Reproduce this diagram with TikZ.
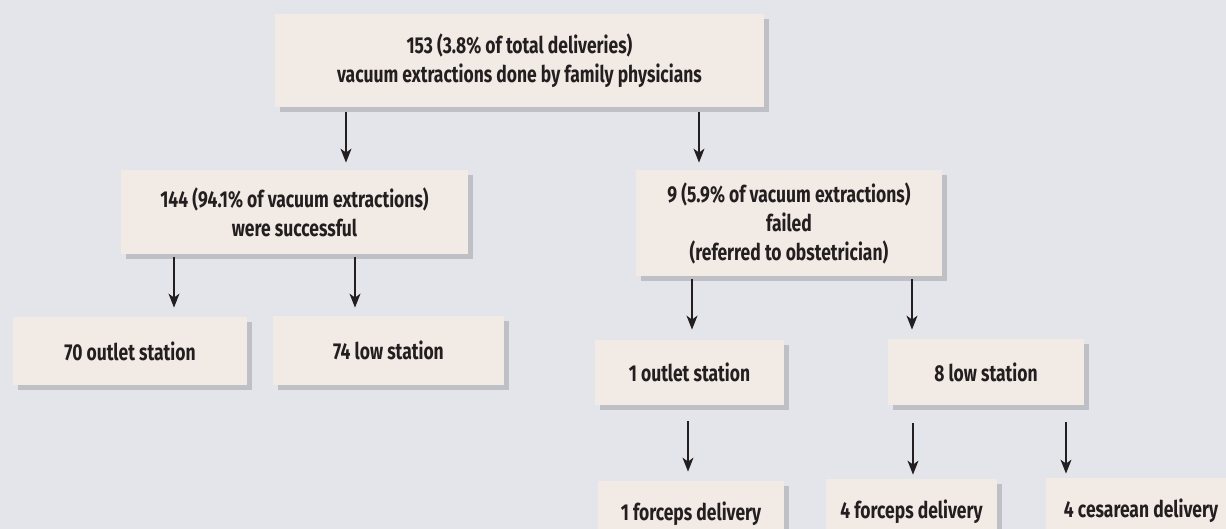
\documentclass[tikz,border=0pt]{standalone}
\usepackage{fontspec}
\setmainfont{Fira Sans}[FakeStretch=0.76]
\usetikzlibrary{arrows.meta, shadows}
\definecolor{pagebg}{RGB}{228,229,235}
\definecolor{boxfill}{RGB}{242,234,228}
\definecolor{inkdark}{RGB}{35,31,32}
\tikzset{flow box/.style={rectangle, fill=boxfill, inner sep=0pt, align=center, text=inkdark,
    font=\bfseries\fontsize{11.5}{14.5}\selectfont,
    drop shadow={shadow xshift=2.5pt, shadow yshift=-2.5pt, fill=black, opacity=0.16}},
  arrow/.style={-{Stealth[length=7pt, width=5.5pt, inset=2pt]}, draw=inkdark, line width=0.6pt}
}

\begin{document}
\begin{tikzpicture}[x=0.5pt, y=-0.5pt]
          \useasboundingbox (0,0) rectangle (1226,529);
          \clip (0,0) rectangle (1226,529);
          \fill[pagebg] (0,0) rectangle (1226,529);
          % Root
          \node[flow box, minimum width=244.5pt, minimum height=46.5pt] (total) at (519.5,60.5) {153 (3.8\% of total deliveries)\\vacuum extractions done by family physicians};
          % Outcome
          \node[flow box, minimum width=173.5pt, minimum height=42pt] (success) at (294.5,212) {144 (94.1\% of vacuum extractions)\\were successful};
          \node[flow box, minimum width=153pt, minimum height=53pt] (failed) at (789,223) {9 (5.9\% of vacuum extractions)\\failed\\(referred to obstetrician)};
          % Station
          \node[flow box, minimum width=117pt, minimum height=34pt] (outlet70) at (130,351) {70 outlet station};
          \node[flow box, minimum width=115.5pt, minimum height=34.5pt] (low74) at (388.5,350.5) {74 low station};
          \node[flow box, minimum width=94.5pt, minimum height=32.5pt] (outlet1) at (689.5,372.5) {1 outlet station};
          \node[flow box, minimum width=98pt, minimum height=33pt] (low8) at (986,372) {8 low station};
          % Delivery
          \node[flow box, minimum width=93pt, minimum height=33pt] (forceps1) at (691,514) {1 forceps delivery};
          \node[flow box, minimum width=85.5pt, minimum height=33pt] (forceps4) at (911.5,512) {4 forceps delivery};
          \node[flow box, minimum width=95pt, minimum height=33pt] (cesarean4) at (1141,511) {4 cesarean delivery};
          % Connections
          \draw[arrow, shorten <=2.5pt, shorten >=3.5pt] (total.south -| 346,0) -- (success.north -| 346,0);
          \draw[arrow, shorten <=2.5pt, shorten >=3.5pt] (total.south -| 699,0) -- (failed.north -| 699,0);
          \draw[arrow, shorten <=1.5pt, shorten >=4.5pt] (success.south -| 174,0) -- (outlet70.north -| 174,0);
          \draw[arrow, shorten <=1.5pt, shorten >=4pt] (success.south -| 355,0) -- (low74.north -| 355,0);
          \draw[arrow, shorten <=1.5pt, shorten >=5pt] (failed.south -| 692,0) -- (outlet1.north -| 692,0);
          \draw[arrow, shorten <=1.5pt, shorten >=4.5pt] (failed.south -| 912,0) -- (low8.north -| 912,0);
          \draw[arrow, shorten <=8pt, shorten >=4.5pt] (outlet1.south -| 688,0) -- (forceps1.north -| 688,0);
          \draw[arrow, shorten <=9pt, shorten >=2pt] (low8.south -| 913,0) -- (forceps4.north -| 913,0);
          \draw[arrow, shorten <=8.5pt, shorten >=2pt] (low8.south -| 1066,0) -- (cesarean4.north -| 1066,0);
        \end{tikzpicture}
\end{document}
